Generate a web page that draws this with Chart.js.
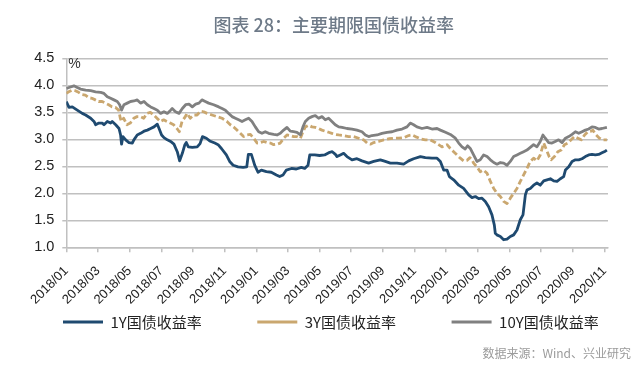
<!DOCTYPE html>
<html>
<head>
<meta charset="utf-8">
<script src="https://cdn.jsdelivr.net/npm/chart.js@4.4.1/dist/chart.umd.min.js"></script>
<style>
  html, body { margin: 0; padding: 0; background: #fff; }
  #wrap { position: relative; width: 640px; height: 366px; }
  #source { position: absolute; right: 9px; top: 344px; font: 12px "Noto Sans CJK SC"; color: #9b9b9b; white-space: nowrap; }
</style>
</head>
<body>
<div id="wrap">
  <canvas id="yieldChart" width="640" height="366"></canvas>
  <div id="source">数据来源：Wind、兴业研究</div>
</div>
<script>
// x positions are months counted from 2018/01
var xTickLabels = ['2018/01', '2018/03', '2018/05', '2018/07', '2018/09', '2018/11',
  '2019/01', '2019/03', '2019/05', '2019/07', '2019/09', '2019/11',
  '2020/01', '2020/03', '2020/05', '2020/07', '2020/09', '2020/11'];

var y1Months = [0, 0.17, 0.38, 0.69, 1.01, 1.22, 1.54, 1.75, 1.85, 2.06,
  2.27, 2.38, 2.59, 2.8, 2.9, 3.12, 3.33, 3.43, 3.49, 3.58,
  3.75, 3.96, 4.17, 4.27, 4.48, 4.69, 4.91, 5.12, 5.33, 5.54,
  5.75, 5.86, 6.02, 6.17, 6.38, 6.59, 6.8, 7.01, 7.16, 7.33,
  7.49, 7.58, 7.71, 7.96, 8.27, 8.45, 8.6, 8.85, 9.06, 9.38,
  9.59, 9.8, 10.11, 10.32, 10.54, 10.85, 11.17, 11.4, 11.5, 11.69,
  11.8, 11.9, 12.11, 12.32, 12.64, 12.95, 13.27, 13.48, 13.69, 13.9,
  14.22, 14.53, 14.85, 15.06, 15.27, 15.38, 15.69, 16.0, 16.32, 16.64,
  16.8, 17.0, 17.1, 17.31, 17.52, 17.73, 18.05, 18.36, 18.68, 19.1,
  19.42, 19.84, 20.15, 20.47, 20.89, 21.31, 21.63, 21.94, 22.37, 22.68,
  23.1, 23.42, 23.63, 23.84, 24.05, 24.2, 24.47, 24.79, 25.1, 25.42,
  25.63, 25.84, 26.05, 26.26, 26.47, 26.68, 26.89, 27.04, 27.1, 27.2,
  27.42, 27.63, 27.84, 28.05, 28.26, 28.47, 28.68, 28.85, 29.0, 29.1,
  29.31, 29.52, 29.73, 29.94, 30.16, 30.37, 30.58, 30.79, 31.0, 31.21,
  31.42, 31.53, 31.74, 31.95, 32.16, 32.37, 32.58, 32.79, 33.0, 33.21,
  33.42, 33.63, 33.84, 34.05, 34.15];
var y1Values = [3.70, 3.59, 3.60, 3.54, 3.48, 3.45, 3.39, 3.33, 3.27, 3.30,
  3.30, 3.27, 3.33, 3.30, 3.33, 3.27, 3.20, 3.08, 2.91, 3.05,
  2.99, 2.94, 2.93, 2.99, 3.08, 3.11, 3.15, 3.17, 3.20, 3.23,
  3.28, 3.20, 3.08, 3.03, 2.99, 2.96, 2.91, 2.77, 2.60, 2.74,
  2.90, 2.94, 2.86, 2.85, 2.86, 2.92, 3.05, 3.02, 2.97, 2.93,
  2.90, 2.83, 2.71, 2.59, 2.52, 2.49, 2.48, 2.49, 2.72, 2.72,
  2.62, 2.52, 2.39, 2.43, 2.40, 2.39, 2.34, 2.31, 2.34, 2.43,
  2.46, 2.45, 2.48, 2.46, 2.52, 2.71, 2.71, 2.70, 2.71, 2.76,
  2.77, 2.72, 2.68, 2.71, 2.74, 2.68, 2.62, 2.64, 2.60, 2.56,
  2.59, 2.62, 2.59, 2.56, 2.56, 2.54, 2.60, 2.64, 2.68, 2.66,
  2.65, 2.65, 2.59, 2.43, 2.43, 2.31, 2.25, 2.15, 2.09, 1.97,
  1.92, 1.94, 1.90, 1.91, 1.85, 1.75, 1.60, 1.41, 1.26, 1.23,
  1.20, 1.14, 1.15, 1.20, 1.23, 1.32, 1.51, 1.60, 1.97, 2.06,
  2.09, 2.15, 2.19, 2.15, 2.23, 2.25, 2.27, 2.23, 2.22, 2.27,
  2.31, 2.43, 2.49, 2.59, 2.62, 2.62, 2.64, 2.68, 2.71, 2.72,
  2.71, 2.72, 2.75, 2.78, 2.80];

var y3Months = [0, 0.15, 0.36, 0.57, 0.78, 0.99, 1.2, 1.41, 1.62, 1.83,
  2.04, 2.26, 2.47, 2.68, 2.89, 3.1, 3.31, 3.41, 3.48, 3.62,
  3.83, 4.04, 4.26, 4.47, 4.68, 4.89, 5.1, 5.31, 5.52, 5.73,
  5.94, 6.15, 6.36, 6.57, 6.78, 6.99, 7.14, 7.31, 7.52, 7.62,
  7.83, 8.05, 8.26, 8.47, 8.68, 8.89, 9.2, 9.52, 9.84, 10.15,
  10.36, 10.57, 10.78, 10.99, 11.2, 11.42, 11.63, 11.84, 12.05, 12.26,
  12.47, 12.68, 12.89, 13.1, 13.31, 13.52, 13.73, 13.94, 14.15, 14.36,
  14.57, 14.79, 14.95, 15.1, 15.31, 15.52, 15.73, 15.94, 16.15, 16.36,
  16.57, 16.78, 16.99, 17.21, 17.52, 17.83, 18.15, 18.47, 18.78, 19.0,
  19.21, 19.42, 19.73, 20.05, 20.37, 20.68, 20.99, 21.31, 21.63, 21.84,
  22.05, 22.37, 22.68, 22.99, 23.31, 23.52, 23.73, 24.05, 24.26, 24.47,
  24.68, 24.89, 25.1, 25.31, 25.5, 25.63, 25.73, 25.94, 26.15, 26.36,
  26.58, 26.79, 27.0, 27.21, 27.42, 27.63, 27.84, 28.05, 28.26, 28.47,
  28.68, 28.89, 29.1, 29.31, 29.52, 29.73, 29.94, 30.16, 30.3, 30.5,
  30.63, 30.84, 31.05, 31.26, 31.47, 31.68, 31.89, 32.1, 32.32, 32.53,
  32.74, 32.95, 33.16, 33.26, 33.47, 33.68, 33.89, 34.15];
var y3Values = [3.85, 3.88, 3.91, 3.90, 3.87, 3.83, 3.82, 3.77, 3.76, 3.73,
  3.70, 3.70, 3.67, 3.64, 3.60, 3.59, 3.54, 3.39, 3.33, 3.39,
  3.27, 3.30, 3.39, 3.42, 3.42, 3.39, 3.48, 3.50, 3.45, 3.39,
  3.33, 3.36, 3.33, 3.30, 3.27, 3.20, 3.14, 3.33, 3.42, 3.48,
  3.39, 3.45, 3.45, 3.52, 3.51, 3.48, 3.45, 3.42, 3.39, 3.33,
  3.27, 3.23, 3.17, 3.11, 3.05, 3.08, 3.09, 3.02, 2.93, 2.94,
  2.96, 2.94, 2.93, 2.90, 2.91, 2.93, 3.02, 3.08, 3.07, 3.05,
  3.05, 3.02, 3.14, 3.23, 3.26, 3.23, 3.22, 3.20, 3.17, 3.15,
  3.13, 3.11, 3.09, 3.08, 3.07, 3.05, 3.05, 3.02, 2.99, 2.93,
  2.91, 2.94, 2.96, 2.99, 3.01, 3.02, 3.02, 3.03, 3.07, 3.08,
  3.05, 3.01, 2.99, 2.99, 2.94, 2.90, 2.86, 2.90, 2.83, 2.77,
  2.71, 2.65, 2.60, 2.61, 2.66, 2.62, 2.56, 2.49, 2.40, 2.43,
  2.37, 2.22, 2.09, 2.00, 1.94, 1.85, 1.81, 1.91, 2.00, 2.09,
  2.22, 2.34, 2.46, 2.59, 2.65, 2.60, 2.71, 2.93, 2.83, 2.68,
  2.62, 2.68, 2.77, 2.80, 2.90, 2.93, 2.99, 3.05, 3.02, 2.99,
  3.08, 3.14, 3.15, 3.17, 3.08, 3.02, 2.99, 2.99];

var y10Months = [0, 0.17, 0.48, 0.69, 0.9, 1.22, 1.54, 1.85, 2.17, 2.38,
  2.59, 2.8, 3.01, 3.22, 3.37, 3.49, 3.64, 3.85, 4.06, 4.27,
  4.48, 4.69, 4.91, 5.12, 5.33, 5.54, 5.75, 5.96, 6.17, 6.38,
  6.59, 6.69, 6.9, 7.12, 7.33, 7.54, 7.75, 7.96, 8.17, 8.38,
  8.57, 8.78, 8.99, 9.31, 9.63, 9.84, 10.05, 10.26, 10.47, 10.68,
  10.89, 11.1, 11.31, 11.52, 11.73, 11.94, 12.15, 12.36, 12.57, 12.78,
  13.1, 13.31, 13.52, 13.73, 13.94, 14.15, 14.36, 14.57, 14.79, 14.95,
  15.1, 15.31, 15.52, 15.73, 15.94, 16.15, 16.36, 16.57, 16.78, 16.99,
  17.21, 17.42, 17.73, 18.05, 18.36, 18.68, 18.89, 19.1, 19.31, 19.63,
  19.94, 20.26, 20.58, 20.89, 21.21, 21.52, 21.73, 21.94, 22.15, 22.47,
  22.79, 23.1, 23.42, 23.63, 23.95, 24.26, 24.58, 24.79, 25.0, 25.2,
  25.35, 25.52, 25.73, 25.94, 26.15, 26.36, 26.58, 26.79, 27.0, 27.21,
  27.42, 27.63, 27.84, 28.05, 28.26, 28.47, 28.68, 28.89, 29.1, 29.31,
  29.52, 29.73, 29.94, 30.11, 30.26, 30.47, 30.68, 30.89, 31.1, 31.32,
  31.53, 31.74, 31.95, 32.16, 32.37, 32.58, 32.79, 33.0, 33.21, 33.42,
  33.63, 33.84, 34.15];
var y10Values = [3.94, 3.96, 3.99, 3.96, 3.93, 3.91, 3.90, 3.88, 3.87, 3.85,
  3.79, 3.76, 3.73, 3.70, 3.64, 3.54, 3.64, 3.67, 3.70, 3.71,
  3.73, 3.67, 3.70, 3.64, 3.60, 3.57, 3.54, 3.48, 3.51, 3.48,
  3.54, 3.57, 3.51, 3.48, 3.57, 3.64, 3.65, 3.60, 3.65, 3.67,
  3.73, 3.70, 3.67, 3.64, 3.60, 3.57, 3.54, 3.48, 3.42, 3.39,
  3.36, 3.33, 3.36, 3.39, 3.33, 3.23, 3.14, 3.11, 3.14, 3.11,
  3.09, 3.08, 3.11, 3.17, 3.22, 3.15, 3.14, 3.13, 3.08, 3.23,
  3.33, 3.39, 3.42, 3.44, 3.39, 3.42, 3.36, 3.39, 3.33, 3.27,
  3.23, 3.22, 3.20, 3.19, 3.17, 3.14, 3.08, 3.05, 3.07, 3.08,
  3.11, 3.13, 3.14, 3.17, 3.19, 3.23, 3.30, 3.27, 3.23, 3.20,
  3.22, 3.19, 3.20, 3.17, 3.13, 3.09, 3.02, 2.93, 2.86, 2.82,
  2.88, 2.83, 2.71, 2.59, 2.62, 2.71, 2.68, 2.62, 2.57, 2.54,
  2.57, 2.56, 2.52, 2.59, 2.68, 2.71, 2.74, 2.77, 2.80, 2.85,
  2.90, 2.86, 2.96, 3.08, 3.02, 2.94, 2.93, 2.96, 2.99, 2.94,
  3.02, 3.05, 3.09, 3.14, 3.11, 3.14, 3.17, 3.19, 3.23, 3.22,
  3.19, 3.20, 3.22];

function toPoints(months, values) {
  return months.map(function (m, i) { return { x: m, y: values[i] }; });
}

// "%" unit label in the top left corner of the plot
var unitLabel = {
  id: 'unitLabel',
  afterDraw: function (chart) {
    var ctx = chart.ctx, area = chart.chartArea;
    ctx.save();
    ctx.font = '14px "Liberation Sans"';
    ctx.fillStyle = '#333';
    ctx.textBaseline = 'middle';
    ctx.fillText('%', area.left + 2, area.top + 6);
    ctx.restore();
  }
};

var gridColor = '#c0c0c0';

new Chart(document.getElementById('yieldChart'), {
  type: 'line',
  data: {
    datasets: [{
      label: '1Y国债收益率',
      data: toPoints(y1Months, y1Values),
      borderColor: '#1f4a70',
      borderWidth: 2.8,
      order: 3
    }, {
      label: '3Y国债收益率',
      data: toPoints(y3Months, y3Values),
      borderColor: '#caa76f',
      borderWidth: 2.8,
      borderDash: [6, 3],
      order: 2
    }, {
      label: '10Y国债收益率',
      data: toPoints(y10Months, y10Values),
      borderColor: '#808080',
      borderWidth: 2.8,
      order: 1
    }]
  },
  options: {
    responsive: false,
    animation: false,
    events: [],
    elements: { point: { radius: 0 }, line: { tension: 0, borderJoinStyle: 'round' } },
    layout: { padding: { left: 7.5, right: -20, top: 0, bottom: 26.5 } },
    plugins: {
      title: {
        display: true,
        text: '图表 28：主要期限国债收益率',
        color: '#6e7a88',
        font: { family: 'Noto Sans CJK SC', size: 18, weight: 500 },
        padding: { top: 14.2, bottom: 22.5 }
      },
      legend: {
        position: 'bottom',
        align: 'start',
        labels: {
          usePointStyle: true,
          pointStyle: 'line',
          pointStyleWidth: 40,
          padding: 55.5,
          color: '#222',
          font: { family: 'Noto Sans CJK SC', size: 15 },
          sort: function (a, b) { return a.datasetIndex - b.datasetIndex; }
        }
      },
      tooltip: { enabled: false }
    },
    scales: {
      x: {
        type: 'linear',
        min: 0,
        max: 34.22,
        afterBuildTicks: function (scale) {
          scale.ticks = xTickLabels.map(function (t, i) { return { value: i * 2 }; });
        },
        afterFit: function (scale) {
          // the legend sits over the label band, so keep the box short
          // and let the rotated labels draw past it
          scale.height = 11.7;
          scale._computeLabelArea = function () { return undefined; };
        },
        ticks: {
          autoSkip: false,
          minRotation: 45,
          maxRotation: 45,
          padding: 11,
          color: '#222',
          font: { family: 'Liberation Sans', size: 13 },
          callback: function (v, i) { return xTickLabels[i]; }
        },
        grid: { drawOnChartArea: false, drawTicks: true, tickLength: 5, color: gridColor, lineWidth: 1.5 },
        border: { color: gridColor, width: 1.5 }
      },
      y: {
        min: 1,
        max: 4.5,
        afterFit: function (scale) { scale.width = 58.8; },
        ticks: {
          stepSize: 0.5,
          padding: 8,
          color: '#222',
          font: { family: 'Liberation Sans', size: 14.5 },
          callback: function (v) { return v.toFixed(1); }
        },
        grid: { color: gridColor, lineWidth: 1.5, tickLength: 4 },
        border: { color: gridColor, width: 1.5 }
      },
      // empty right axis, only keeps the plot right edge in place
      yRight: {
        type: 'linear',
        position: 'right',
        afterFit: function (scale) { scale.width = 52; },
        grid: { display: false },
        border: { display: false },
        ticks: { display: false }
      }
    }
  },
  plugins: [unitLabel]
});
</script>
</body>
</html>
